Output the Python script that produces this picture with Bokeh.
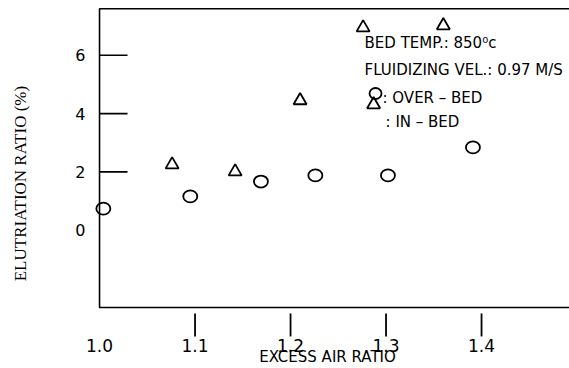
import math
from bokeh.plotting import figure
from bokeh.models import Range1d
from bokeh.embed import file_html
from bokeh.resources import INLINE
from bokeh.core.properties import value

# ---- data ----
over_bed_x = [1.004, 1.095, 1.169, 1.226, 1.302, 1.391]
over_bed_y = [0.74, 1.16, 1.67, 1.88, 1.88, 2.84]
in_bed_x = [1.076, 1.142, 1.210, 1.276, 1.360]
in_bed_y = [2.25, 2.01, 4.45, 6.95, 7.02]

x_tick_marks = [1.1, 1.2, 1.3, 1.4]
x_label_values = [1.0, 1.1, 1.2, 1.3, 1.4]
x_tick_labels = ["1.0", "1.1", "1.2", "1.3", "1.4"]
y_tick_marks = [2, 4, 6]
y_label_values = [0, 2, 4, 6]
y_tick_labels = ["0", "2", "4", "6"]

legend_lines = ["BED TEMP.: 850\u2070c", "FLUIDIZING VEL.: 0.97 M/S",
                ": OVER \u2013 BED", ": IN \u2013 BED"]
x_title = "EXCESS AIR RATIO"
y_title = "ELUTRIATION RATIO (%)"

# ---- layout ----
W, H = 569, 368
X_RANGE = (0.8963, 1.4921)
Y_RANGE = (-4.744, 7.880)
X_MIN, Y_MIN, Y_MAX = 1.0, -2.65, 7.595
SY = H / (Y_RANGE[1] - Y_RANGE[0])

SANS = value("DejaVu Sans")
SERIF = value("Liberation Serif")

p = figure(width=W, height=H, output_backend="svg", toolbar_location=None,
           x_range=Range1d(*X_RANGE), y_range=Range1d(*Y_RANGE),
           x_axis_location=None, y_axis_location=None, min_border=0)
p.outline_line_color = None
p.grid.visible = False
p.background_fill_color = "white"

# frame (left, top, bottom)
p.line([X_RANGE[1] + 0.1, X_MIN, X_MIN, X_RANGE[1] + 0.1],
       [Y_MAX, Y_MAX, Y_MIN, Y_MIN], line_color="black", line_width=1.6)

# y tick marks (inside)
p.ray(x=[X_MIN] * len(y_tick_marks), y=y_tick_marks, length=28,
      length_units="screen", angle=0, line_color="black", line_width=1.6)

# x tick marks (below frame, detached)
p.segment(x0=x_tick_marks, y0=[Y_MIN - 6 / SY] * len(x_tick_marks),
          x1=x_tick_marks, y1=[Y_MIN - 29 / SY] * len(x_tick_marks),
          line_color="black", line_width=1.8)

# tick labels
p.text(x=x_label_values, y=[Y_MIN] * len(x_label_values), text=x_tick_labels,
       y_offset=38, text_align="center", text_baseline="middle",
       text_font=SANS, text_font_size="17px", text_color="black")
p.text(x=[X_MIN] * len(y_label_values), y=y_label_values, text=y_tick_labels,
       x_offset=-14, text_align="right", text_baseline="middle",
       text_font=SANS, text_font_size="16px", text_color="black")

# axis titles
p.text(x=[1.2387], y=[Y_MIN], text=[x_title], y_offset=50,
       text_align="center", text_baseline="middle",
       text_font=SANS, text_font_size="15px", text_color="black")
p.text(x=[X_MIN], y=[1.6], text=[y_title], x_offset=-79, angle=math.pi / 2,
       text_align="center", text_baseline="middle",
       text_font=SERIF, text_font_size="17px", text_color="black")

# data markers
p.ellipse(over_bed_x, over_bed_y, width=14, height=12, width_units="screen",
          height_units="screen", fill_color=None, line_color="black", line_width=1.8)
p.scatter(in_bed_x, in_bed_y, marker="triangle", size=13, fill_color=None,
          line_color="black", line_width=1.8)

# legend / annotation block
leg_x = [1.2775, 1.2775, 1.2963, 1.2995]
leg_y = [6.405, 5.479, 4.552, 3.729]
for lx, ly, t in zip(leg_x, leg_y, legend_lines):
    p.text(x=[lx], y=[ly], text=[t], text_align="left", text_baseline="middle",
           text_font=SANS, text_font_size="15px", text_color="black")
p.ellipse([1.289], [4.69], width=12, height=11, width_units="screen",
          height_units="screen", fill_color=None, line_color="black", line_width=1.8)
p.scatter([1.287], [4.31], marker="triangle", size=13, fill_color=None,
          line_color="black", line_width=1.8)

open("out.html", "w").write(file_html(p, INLINE))
